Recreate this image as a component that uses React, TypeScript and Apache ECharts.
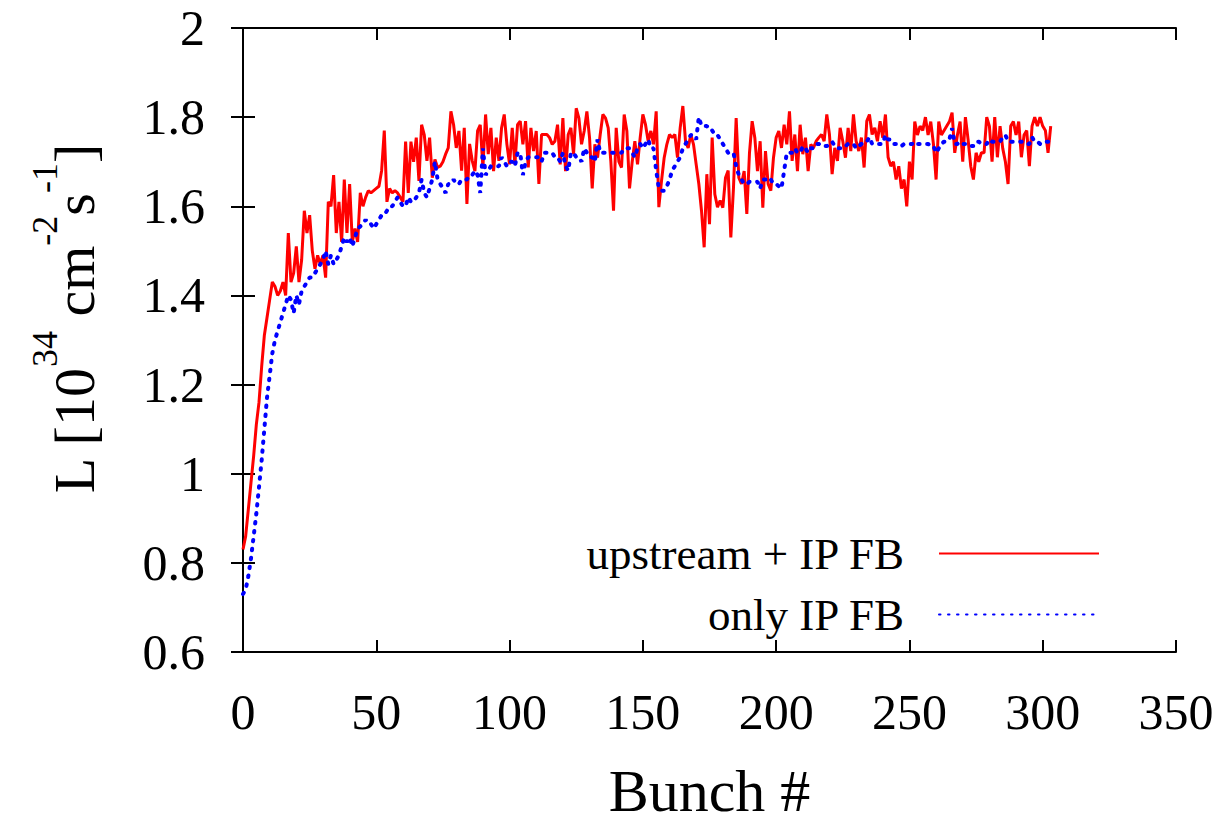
import React, { useEffect, useRef } from "react";
import * as echarts from "echarts";

// Luminosity per bunch, bunch index = array position (0..303)
const upstreamIpFb: number[] = [
  0.83, 0.86, 0.92, 0.98, 1.04, 1.11, 1.16, 1.24, 1.31, 1.35,
  1.39, 1.43, 1.42, 1.40, 1.41, 1.43, 1.40, 1.54, 1.43, 1.45,
  1.51, 1.43, 1.48, 1.59, 1.54, 1.58, 1.50, 1.46, 1.49, 1.47,
  1.49, 1.44, 1.61, 1.60, 1.67, 1.54, 1.61, 1.52, 1.66, 1.54,
  1.65, 1.52, 1.55, 1.52, 1.63, 1.60, 1.62, 1.635, 1.63, 1.635,
  1.64, 1.645, 1.68, 1.77, 1.61, 1.64, 1.63, 1.635, 1.63, 1.62,
  1.61,
  1.745, 1.63, 1.745, 1.70, 1.754, 1.657, 1.783, 1.76, 1.702, 1.754,
  1.664, 1.705, 1.687, 1.69, 1.70, 1.717, 1.731, 1.813, 1.783, 1.731,
  1.769, 1.68, 1.776, 1.605, 1.74, 1.702, 1.679, 1.769, 1.783, 1.687,
  1.806, 1.717, 1.776, 1.679, 1.754, 1.702, 1.776, 1.806, 1.739, 1.694,
  1.776, 1.694, 1.783, 1.791, 1.739, 1.791, 1.687, 1.776, 1.724, 1.769,
  1.65, 1.761, 1.761, 1.761, 1.754, 1.739, 1.746, 1.783, 1.694,
  1.798, 1.679, 1.761, 1.776, 1.717, 1.82, 1.798, 1.739, 1.769, 1.813,
  1.754, 1.64, 1.739, 1.709, 1.761, 1.806, 1.798, 1.776, 1.70, 1.59,
  1.776, 1.70, 1.687, 1.806, 1.769, 1.64, 1.70, 1.746, 1.694, 1.754,
  1.806, 1.783, 1.746, 1.769, 1.739, 1.813, 1.598, 1.657, 1.709, 1.739,
  1.761, 1.754, 1.761, 1.709, 1.776, 1.825, 1.746, 1.731, 1.761, 1.739,
  1.694, 1.65, 1.59, 1.508, 1.672, 1.56, 1.754, 1.627, 1.598, 1.613,
  1.597,
  1.664, 1.68, 1.53, 1.642, 1.798, 1.664, 1.65, 1.679, 1.583, 1.72,
  1.791, 1.754, 1.679, 1.746, 1.597, 1.724, 1.65, 1.635, 1.709, 1.754,
  1.769, 1.731, 1.783, 1.739, 1.813, 1.702, 1.761, 1.679, 1.783, 1.717,
  1.754, 1.679, 1.739, 1.731, 1.746, 1.754, 1.761, 1.746, 1.806, 1.761,
  1.672, 1.731, 1.702, 1.776, 1.746, 1.709, 1.776, 1.724, 1.806, 1.746,
  1.724, 1.754, 1.687, 1.791, 1.806, 1.761, 1.776, 1.746, 1.791, 1.754,
  1.806, 1.71, 1.69, 1.70, 1.66, 1.69, 1.64, 1.66, 1.60, 1.70,
  1.66, 1.79, 1.76, 1.78, 1.77, 1.80, 1.76, 1.79, 1.74, 1.66,
  1.79, 1.76, 1.77, 1.78, 1.79, 1.81, 1.72, 1.76, 1.79, 1.70,
  1.80, 1.75, 1.69, 1.66, 1.72, 1.70, 1.72, 1.72, 1.80, 1.78,
  1.70, 1.80, 1.71, 1.78, 1.73, 1.70, 1.65, 1.78, 1.79, 1.76,
  1.79, 1.71, 1.76, 1.77, 1.69, 1.78, 1.80, 1.78, 1.80, 1.78,
  1.77, 1.72, 1.78,
];

const onlyIpFb: number[] = [
  0.73, 0.74, 0.77, 0.81, 0.86, 0.91, 0.97, 1.03, 1.10, 1.17,
  1.22, 1.27, 1.30, 1.32, 1.34, 1.36, 1.38, 1.40, 1.39, 1.36,
  1.40, 1.38, 1.41, 1.42, 1.43, 1.44, 1.44, 1.45, 1.46, 1.47,
  1.48, 1.50, 1.47, 1.49, 1.47, 1.48, 1.49, 1.51, 1.53, 1.52,
  1.53, 1.51, 1.53, 1.55, 1.555, 1.56, 1.57, 1.56, 1.56, 1.55,
  1.56, 1.57, 1.58, 1.58, 1.59, 1.60, 1.60, 1.61, 1.62, 1.61,
  1.60,
  1.60, 1.62, 1.61, 1.61, 1.62, 1.63, 1.66, 1.63, 1.62, 1.64,
  1.66, 1.70, 1.66, 1.65, 1.64, 1.63, 1.65, 1.65, 1.66, 1.65,
  1.65, 1.66, 1.66, 1.66, 1.67, 1.67, 1.68, 1.67, 1.63, 1.73,
  1.67, 1.68, 1.69, 1.69, 1.69, 1.69, 1.71, 1.70, 1.69, 1.70,
  1.70, 1.69, 1.72, 1.72, 1.67, 1.70, 1.71, 1.71, 1.71, 1.71,
  1.71, 1.70, 1.72, 1.72, 1.72, 1.72, 1.71, 1.71, 1.70,
  1.72, 1.69, 1.68, 1.72, 1.72, 1.71, 1.71, 1.70, 1.73, 1.72,
  1.71, 1.71, 1.70, 1.75, 1.72, 1.72, 1.72, 1.72, 1.72, 1.72,
  1.72, 1.72, 1.72, 1.73, 1.73, 1.73, 1.72, 1.71, 1.73, 1.74,
  1.73, 1.74, 1.75, 1.73, 1.73, 1.68, 1.64, 1.635, 1.635, 1.645,
  1.66, 1.68, 1.69, 1.70, 1.71, 1.73, 1.74, 1.75, 1.76, 1.76,
  1.75, 1.80, 1.78, 1.78, 1.78, 1.77, 1.77, 1.76, 1.76, 1.75,
  1.74,
  1.73, 1.72, 1.72, 1.72, 1.69, 1.67, 1.66, 1.65, 1.65, 1.655,
  1.655, 1.655, 1.655, 1.64, 1.66, 1.66, 1.655, 1.66, 1.65, 1.65,
  1.645, 1.64, 1.68, 1.72, 1.72, 1.72, 1.73, 1.72, 1.72, 1.735,
  1.73, 1.72, 1.73, 1.73, 1.74, 1.74, 1.735, 1.735, 1.735, 1.74,
  1.745, 1.735, 1.73, 1.73, 1.73, 1.735, 1.74, 1.74, 1.74, 1.73,
  1.735, 1.74, 1.74, 1.745, 1.755, 1.74, 1.74, 1.74, 1.74, 1.74,
  1.76, 1.75, 1.75, 1.74, 1.74, 1.735, 1.735, 1.74, 1.74, 1.74,
  1.74, 1.745, 1.74, 1.74, 1.74, 1.74, 1.74, 1.735, 1.735, 1.72,
  1.73, 1.74, 1.745, 1.745, 1.75, 1.775, 1.74, 1.74, 1.745, 1.74,
  1.74, 1.74, 1.735, 1.735, 1.745, 1.745, 1.74, 1.74, 1.74, 1.75,
  1.745, 1.745, 1.745, 1.745, 1.755, 1.76, 1.745, 1.745, 1.745, 1.745,
  1.745, 1.745, 1.745, 1.74, 1.74, 1.755, 1.745, 1.745, 1.74, 1.74,
  1.745, 1.745, 1.745,
];

const seriesNames = ["upstream + IP FB", "only IP FB"];
const xRange = { min: 0, max: 350, interval: 50 };
const yRange = { min: 0.6, max: 2, interval: 0.2 };
const xTitle = "Bunch #";
const yTitle = "{m|L [10}{s|34}{m| cm}{s|-2}{m|s}{s|-1}{m|]}";

export default function App() {
  const ref = useRef<HTMLDivElement>(null);

  useEffect(() => {
    document.body.style.margin = "0";
    if (!ref.current) return;
    const chart = echarts.init(ref.current, null, { renderer: "svg" });
    const serif = '"Liberation Serif", "Times New Roman", serif';

    const frameLine = { lineStyle: { color: "#000", width: 2 } };
    const tick = { inside: true, length: 12, lineStyle: { color: "#000", width: 2 } };

    const redData = upstreamIpFb.map((v, i) => [i, v]);
    const blueData = onlyIpFb.map((v, i) => [i, v]);

    const legendBase = {
      orient: "vertical",
      align: "right",
      right: 132,
      padding: 0,
      itemWidth: 160,
      itemHeight: 14,
      itemStyle: { opacity: 0 },
      textStyle: {
        fontFamily: serif,
        fontSize: 45,
        color: "#000",
        padding: [0, 30, 0, 0],
      },
    };

    chart.setOption({
      animation: false,
      backgroundColor: "#fff",
      grid: { left: 243, top: 28, width: 933, height: 627, containLabel: false },
      xAxis: [
        {
          type: "value",
          position: "bottom",
          ...xRange,
          axisLine: frameLine,
          axisTick: tick,
          splitLine: { show: false },
          axisLabel: { fontFamily: serif, fontSize: 50, color: "#000", margin: 35 },
          name: xTitle,
          nameLocation: "middle",
          nameGap: 109,
          nameTextStyle: { fontFamily: serif, fontSize: 60, color: "#000" },
        },
        {
          type: "value",
          position: "top",
          ...xRange,
          axisLine: frameLine,
          axisTick: tick,
          splitLine: { show: false },
          axisLabel: { show: false },
        },
      ],
      yAxis: [
        {
          type: "value",
          position: "left",
          ...yRange,
          axisLine: frameLine,
          axisTick: tick,
          splitLine: { show: false },
          axisLabel: { fontFamily: serif, fontSize: 50, color: "#000", margin: 38 },
          name: yTitle,
          nameLocation: "middle",
          nameRotate: 90,
          nameGap: 140,
          nameTextStyle: {
            fontFamily: serif,
            color: "#000",
            padding: [0, 0, 0, 42],
            rich: {
              m: { fontFamily: serif, fontSize: 58, color: "#000", lineHeight: 76, verticalAlign: "bottom" },
              s: { fontFamily: serif, fontSize: 36, color: "#000", verticalAlign: "top" },
            },
          },
        },
        {
          type: "value",
          position: "right",
          ...yRange,
          axisLine: frameLine,
          axisTick: tick,
          splitLine: { show: false },
          axisLabel: { show: false },
        },
      ],
      legend: [
        { ...legendBase, data: [seriesNames[0]], top: 531 },
        { ...legendBase, data: [seriesNames[1]], top: 592 },
      ],
      series: [
        {
          name: seriesNames[0],
          type: "line",
          xAxisIndex: 0,
          yAxisIndex: 0,
          data: redData,
          symbol: "none",
          itemStyle: { color: "#ff0000" },
          lineStyle: { color: "#ff0000", width: 3 },
        },
        {
          name: seriesNames[1],
          type: "line",
          xAxisIndex: 0,
          yAxisIndex: 0,
          data: blueData,
          symbol: "none",
          itemStyle: { color: "#0000ff" },
          lineStyle: { color: "#0000ff", width: 4, type: [1.5, 7.5], cap: "round" },
        },
      ],
    });

    return () => chart.dispose();
  }, []);

  return <div ref={ref} style={{ width: 1232, height: 826 }} />;
}
